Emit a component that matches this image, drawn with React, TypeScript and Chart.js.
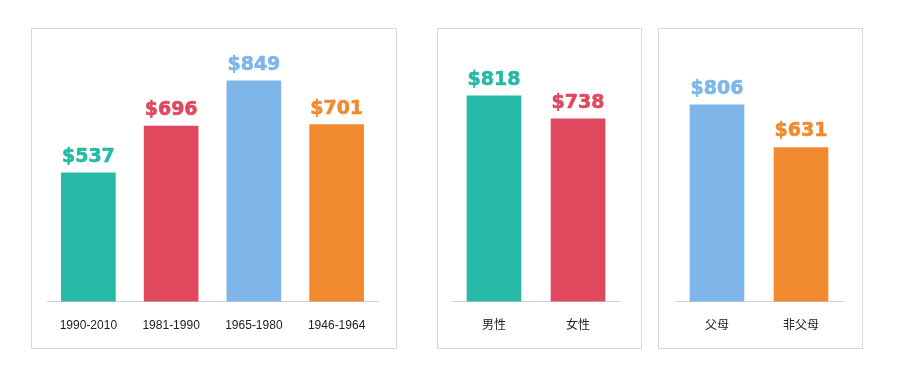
import React, { useEffect, useRef } from "react";
import { Chart, registerables } from "chart.js";

Chart.register(...registerables);

// ---- data ----
const ageCategories = ["1990-2010", "1981-1990", "1965-1980", "1946-1964"];
const ageValues = [537, 696, 849, 701];
const ageColors = ["#26B9A6", "#E0485E", "#7EB6E9", "#F28A30"];

const genderCategories = ["男性", "女性"];
const genderValues = [818, 738];
const genderColors = ["#26B9A6", "#E0485E"];

const parentCategories = ["父母", "非父母"];
const parentValues = [806, 631];
const parentColors = ["#7EB6E9", "#F28A30"];

const valueLabelPlugin = {
  id: "valueLabels",
  afterDatasetsDraw(chart: any) {
    const ctx = chart.ctx;
    const meta = chart.getDatasetMeta(0);
    const ds = chart.data.datasets[0];
    ctx.save();
    ctx.font = 'bold 19px "DejaVu Sans", Verdana, sans-serif';
    ctx.textAlign = "center";
    ctx.textBaseline = "alphabetic";
    ctx.lineWidth = 0.6;
    ctx.lineJoin = "round";
    meta.data.forEach((bar: any, i: number) => {
      const text = "$" + ds.data[i];
      ctx.fillStyle = ds.backgroundColor[i];
      ctx.strokeStyle = ds.backgroundColor[i];
      ctx.fillText(text, bar.x, bar.y - 11);
      ctx.strokeText(text, bar.x, bar.y - 11);
    });
    ctx.restore();
  },
};

type PanelProps = {
  left: number;
  top: number;
  width: number;
  height: number;
  categories: string[];
  values: number[];
  colors: string[];
  yMin: number;
  yMax: number;
  padLeft: number;
  padRight: number;
};

function Panel(p: PanelProps) {
  const ref = useRef<HTMLCanvasElement | null>(null);
  useEffect(() => {
    if (!ref.current) return;
    const chart = new Chart(ref.current, {
      type: "bar",
      data: {
        labels: p.categories,
        datasets: [
          {
            data: p.values,
            backgroundColor: p.colors,
            borderWidth: 0,
            barThickness: 54,
          },
        ],
      },
      options: {
        animation: false,
        responsive: false,
        devicePixelRatio: 1,
        layout: {
          padding: { left: p.padLeft, right: p.padRight, top: 11, bottom: 6 },
        },
        plugins: {
          legend: { display: false },
          tooltip: { enabled: false },
        },
        scales: {
          x: {
            grid: { display: false },
            border: { display: true, color: "#D0D0D0", width: 1 },
            ticks: {
              color: "#222222",
              padding: 9,
              font: { family: '"Liberation Sans", "Noto Sans CJK SC", sans-serif', size: 12 },
            },
          },
          y: {
            display: false,
            min: p.yMin,
            max: p.yMax,
          },
        },
      },
      plugins: [valueLabelPlugin],
    });
    return () => chart.destroy();
  }, []);
  return (
    <div
      style={{
        position: "absolute",
        left: p.left,
        top: p.top,
        width: p.width,
        height: p.height,
        boxSizing: "border-box",
        border: "1px solid #D9D9D9",
        background: "#fff",
      }}
    >
      <canvas
        ref={ref}
        width={p.width - 2}
        height={p.height - 2}
        style={{ display: "block", width: p.width - 2, height: p.height - 2 }}
      />
    </div>
  );
}

export default function App() {
  return (
    <div style={{ position: "absolute", left: 0, top: 0, width: 900, height: 385, background: "#fff" }}>
      <Panel
        left={31}
        top={28}
        width={366}
        height={321}
        categories={ageCategories}
        values={ageValues}
        colors={ageColors}
        yMin={100}
        yMax={988}
        padLeft={15}
        padRight={18}
      />
      <Panel
        left={437}
        top={28}
        width={205}
        height={321}
        categories={genderCategories}
        values={genderValues}
        colors={genderColors}
        yMin={104}
        yMax={1012}
        padLeft={14}
        padRight={21}
      />
      <Panel
        left={658}
        top={28}
        width={205}
        height={321}
        categories={parentCategories}
        values={parentValues}
        colors={parentColors}
        yMin={0}
        yMax={1071}
        padLeft={16}
        padRight={19}
      />
    </div>
  );
}
